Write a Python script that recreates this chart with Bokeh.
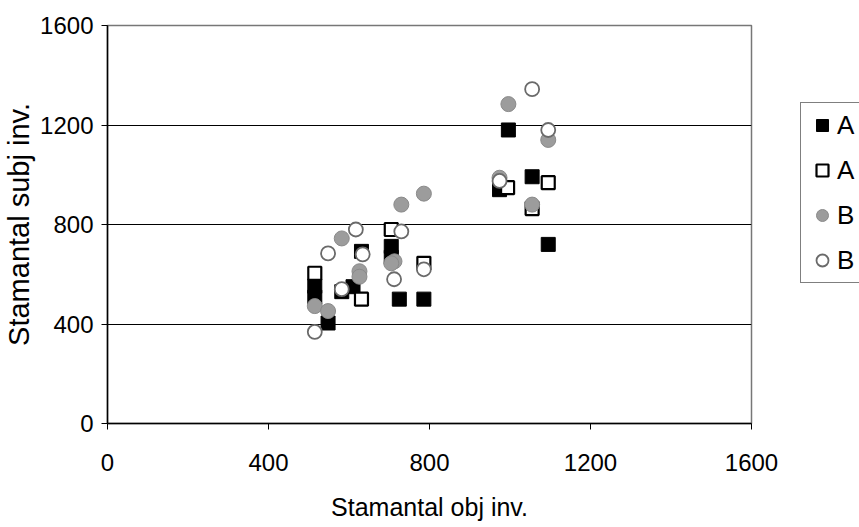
from bokeh.plotting import figure
from bokeh.models import Range1d, FixedTicker, Legend, LegendItem
from bokeh.embed import file_html
from bokeh.resources import INLINE

# Series A (filled squares)
a1_x = [515, 515, 548, 582, 610, 631, 705, 705, 725, 786, 996, 1055, 974, 1095]
a1_y = [552, 508, 404, 530, 550, 692, 712, 668, 500, 500, 1180, 992, 940, 720]
# Series A (open squares)
a2_x = [515, 631, 705, 786, 994, 1095, 1055]
a2_y = [604, 500, 780, 644, 948, 968, 864]
# Series B (grey filled circles)
b1_x = [996, 1095, 974, 1055, 730, 786, 713, 582, 626, 626, 515, 548, 705]
b1_y = [1284, 1140, 988, 880, 880, 924, 652, 744, 612, 590, 472, 452, 644]
# Series B (open circles)
b2_x = [1055, 1095, 974, 730, 786, 712, 548, 617, 582, 515, 634]
b2_y = [1344, 1180, 975, 772, 620, 580, 684, 780, 540, 368, 680]

ticks = [0, 400, 800, 1200, 1600]
legend_labels = ["A", "A", "B", "B"]

p = figure(frame_width=644, frame_height=398, output_backend="svg", toolbar_location=None,
           x_range=Range1d(0, 1600), y_range=Range1d(0, 1600),
           min_border_left=104, min_border_right=10, min_border_top=25, min_border_bottom=90)

p.background_fill_color = "white"
p.border_fill_color = "white"
p.outline_line_color = "#777777"
p.outline_line_width = 1.5

p.xgrid.visible = False
p.ygrid.ticker = FixedTicker(ticks=[400, 800, 1200])
p.ygrid.grid_line_color = "black"
p.ygrid.grid_line_width = 1.2

for ax in (p.xaxis[0], p.yaxis[0]):
    ax.ticker = FixedTicker(ticks=ticks)
    ax.axis_line_color = "black"
    ax.axis_line_width = 1.5
    ax.major_tick_line_color = "black"
    ax.major_tick_out = 6
    ax.major_tick_in = 0
    ax.minor_tick_line_color = None
    ax.major_label_text_font = "Liberation Sans"
    ax.major_label_text_font_size = "24px"
    ax.major_label_text_color = "black"
    ax.axis_label_text_font = "Liberation Sans"
    ax.axis_label_text_font_style = "normal"
    ax.axis_label_text_color = "black"

p.xaxis.axis_label = "Stamantal obj inv."
p.xaxis.axis_label_text_font_size = "25px"
p.xaxis.major_label_standoff = 24
p.xaxis.axis_label_standoff = 19

p.yaxis.axis_label = "Stamantal subj inv."
p.yaxis.axis_label_text_font_size = "29px"
p.yaxis.major_label_standoff = 8
p.yaxis.axis_label_standoff = 2

r1 = p.scatter(a1_x, a1_y, marker="square", size=14, fill_color="black", line_color="black", line_width=1)
r2 = p.scatter(a2_x, a2_y, marker="square", size=13, fill_color="white", line_color="black", line_width=2.2)
r3 = p.scatter(b1_x, b1_y, marker="circle", size=15, fill_color="#9c9c9c", line_color="#8a8a8a", line_width=1)
r4 = p.scatter(b2_x, b2_y, marker="circle", size=14, fill_color="white", line_color="#6a6a6a", line_width=1.8)

legend = Legend(items=[LegendItem(label=lab, renderers=[r]) for lab, r in zip(legend_labels, [r1, r2, r3, r4])],
                location=(49, 140), orientation="vertical")
legend.border_line_color = "black"
legend.border_line_width = 1
legend.background_fill_color = "white"
legend.background_fill_alpha = 1
legend.label_text_font = "Liberation Sans"
legend.label_text_font_size = "26px"
legend.label_text_color = "black"
legend.glyph_width = 30
legend.glyph_height = 32
legend.label_height = 32
legend.label_standoff = 0
legend.spacing = 13
legend.padding = 6
legend.margin = 0
p.add_layout(legend, "right")

open("out.html", "w").write(file_html(p, INLINE))
